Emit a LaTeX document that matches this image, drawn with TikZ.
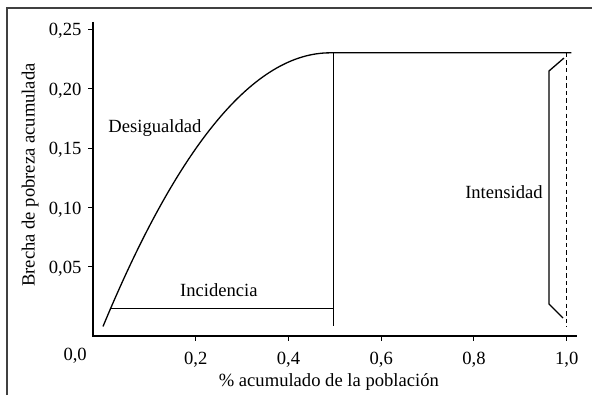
\documentclass[tikz,border=0pt]{standalone}
\usepackage{fontspec}
\setmainfont{Liberation Serif}
\usetikzlibrary{arrows}

\begin{document}
\begin{tikzpicture}[x=231.9pt, y=595pt, font=\fontsize{9.3}{11}\selectfont]
    \tikzstyle{thin line} = [line width=0.5pt, black]
    \tikzstyle{plot line} = [line width=0.65pt, black]
    \tikzstyle{lbl} = [inner sep=0pt]

    \useasboundingbox (-0.2221,-0.0576) rectangle (1.0545,0.2744);

	% frame
	\draw[line width=0.6pt, black!75] (-0.207,-0.0576) -- (-0.207,0.2676) -- (1.0545,0.2676);

	\begin{scope}
		% axes
		\coordinate (corner) at (-0.0216,-0.008);
		\coordinate (ytop) at (-0.0216,0.2559);
		\coordinate (xend) at (1.022,-0.008);
		\draw[plot line] (ytop) -- (corner) -- (xend);

		\foreach \y/\t in {0.05/{0,05}, 0.10/{0,10}, 0.15/{0,15}, 0.20/{0,20}, 0.25/{0,25}}
			\draw[thin line] (-0.0216,\y) -- (-0.0326,\y)
				node[lbl, anchor=east, xshift=-3pt, yshift=-1pt] {\t};
		\foreach \x/\t in {0.2/{0,2}, 0.4/{0,4}, 0.6/{0,6}, 0.8/{0,8}, 1.0/{1,0}}
			\draw[thin line] (\x,-0.008) -- (\x,-0.0122)
				node[lbl, anchor=base, yshift=-12pt] {\t};
		\node[lbl, anchor=base] (zero) at (-0.060,-0.0290) {0,0};

		\node[lbl] (xtitle) at (0.487,-0.0466) {\% acumulado de la población};
		\node[lbl, rotate=90] (ytitle) at (-0.157,0.1273) {Brecha de pobreza acumulada};
	\end{scope}

	\begin{scope}
		\coordinate (start) at (0,0);
		\coordinate (peak) at (0.49,0.23);
		\coordinate (top) at (0.496,0.23);
		\coordinate (topend) at (1.01,0.23);
		\coordinate (base) at (0.496,0);
		\coordinate (inc0) at (0.015,0.0155);
		\coordinate (inc1) at (0.496,0.0155);
		\coordinate (full) at (1,0.23);
		\coordinate (fullbase) at (1,0);

		\draw[plot line] (start) .. controls (0.1633,0.1533) and (0.3267,0.23) .. (peak)
			-- (topend);
		\draw[thin line] (top) -- (base);
		\draw[thin line] (inc0) -- (inc1);
		\draw[thin line, dashed, dash pattern=on 2.2pt off 1.6pt] (full) -- (fullbase);

		% bracket
		\coordinate (b1) at (0.994,0.2256);
		\coordinate (b2) at (0.9617,0.2147);
		\coordinate (b3) at (0.9617,0.0189);
		\coordinate (b4) at (0.992,0.0071);
		\draw[plot line] (b1) -- (b2) -- (b3) -- (b4);

		\node[lbl] (desig) at (0.1120,0.1668) {Desigualdad};
		\node[lbl] (incid) at (0.250,0.0307) {Incidencia};
		\node[lbl] (inten) at (0.8647,0.113) {Intensidad};
	\end{scope}
\end{tikzpicture}
\end{document}
